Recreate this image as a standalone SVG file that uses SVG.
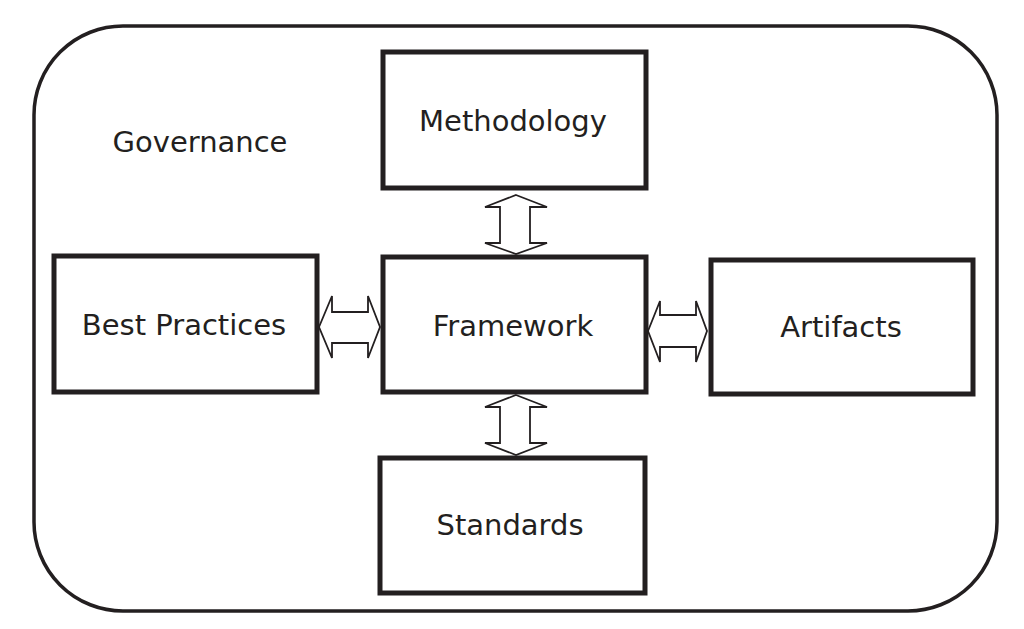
<svg xmlns="http://www.w3.org/2000/svg" width="1024" height="629" viewBox="0 0 1024 629">
<style>
.box{fill:#fff;stroke:#231f20;stroke-width:5}
.outer{fill:#fff;stroke:#231f20;stroke-width:3.5}
.arr{fill:#fff;stroke:#231f20;stroke-width:1.8;stroke-linejoin:miter}
.t{font-family:"DejaVu Sans",Verdana,sans-serif;font-size:29px;fill:#231f20;text-anchor:middle}
</style>
<rect width="1024" height="629" fill="#fff"/>
<g id="governance">
<rect class="outer" x="34" y="26" width="963" height="585" rx="89" ry="89"/>
<text class="t" x="200" y="152">Governance</text>
</g>
<g id="methodology">
<rect class="box" x="383" y="52" width="263" height="136"/>
<text class="t" x="513" y="131">Methodology</text>
</g>
<g id="framework">
<rect class="box" x="383" y="257" width="263" height="135"/>
<text class="t" x="513" y="336">Framework</text>
</g>
<g id="best-practices">
<rect class="box" x="54" y="256" width="263" height="136"/>
<text class="t" x="184" y="335">Best Practices</text>
</g>
<g id="artifacts">
<rect class="box" x="711" y="260" width="262" height="134"/>
<text class="t" x="841" y="337">Artifacts</text>
</g>
<g id="standards">
<rect class="box" x="380" y="458" width="265" height="135"/>
<text class="t" x="510" y="535">Standards</text>
</g>
<g id="connectors">
<polygon class="arr" points="516,195 547,207 530,207 530,243 547,243 516,254 485,243 500,243 500,207 485,207"/>
<polygon class="arr" points="516,395 547,407 530,407 530,443 547,443 516,455 485,443 500,443 500,407 485,407"/>
<polygon class="arr" points="319,327 332,296 332,312 368,312 368,296 380,327 368,358 368,343 332,343 332,358"/>
<polygon class="arr" points="648,331 660,301 660,315 696,315 696,301 707,331 696,362 696,347 660,347 660,362"/>
</g>
</svg>
